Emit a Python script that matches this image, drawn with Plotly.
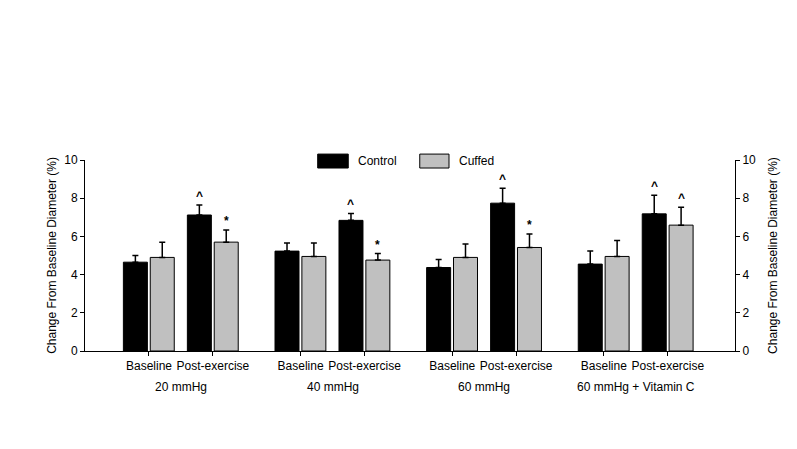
import plotly.graph_objects as go

groups = ["20 mmHg", "40 mmHg", "60 mmHg", "60 mmHg + Vitamin C"]
conditions = ["Baseline", "Post-exercise"]

control_vals = [4.65, 7.12, 5.23, 6.84, 4.37, 7.74, 4.55, 7.18]
control_err = [0.35, 0.52, 0.42, 0.36, 0.42, 0.78, 0.68, 0.98]
cuffed_vals = [4.90, 5.70, 4.95, 4.76, 4.90, 5.42, 4.95, 6.59]
cuffed_err = [0.80, 0.63, 0.70, 0.34, 0.70, 0.70, 0.84, 0.93]
control_marks = ["", "^", "", "^", "", "^", "", "^"]
cuffed_marks = ["", "*", "", "*", "", "*", "", "^"]

y_ticks = [0, 2, 4, 6, 8, 10]
y_title = "Change From Baseline Diameter (%)"

GROUP_GAP = 2.37
xpos = [g * GROUP_GAP + i for g in range(len(groups)) for i in range(len(conditions))]
ticktext = [c for _ in groups for c in conditions]

FONT = "Liberation Sans, Arial, sans-serif"
BW = 0.375

fig = go.Figure()
fig.add_trace(go.Bar(
    x=xpos, y=control_vals, width=BW, offset=-0.40,
    marker=dict(color="black", line=dict(color="black", width=1)),
    error_y=dict(type="data", symmetric=False, array=control_err,
                 arrayminus=[0] * len(control_err), color="black",
                 thickness=1.5, width=3),
    name="Control", showlegend=False,
))
fig.add_trace(go.Bar(
    x=xpos, y=cuffed_vals, width=BW, offset=0.02,
    marker=dict(color="#C0C0C0", line=dict(color="black", width=1)),
    error_y=dict(type="data", symmetric=False, array=cuffed_err,
                 arrayminus=[0] * len(cuffed_err), color="black",
                 thickness=1.5, width=3),
    name="Cuffed", showlegend=False,
))
# invisible trace so the right axis is drawn
fig.add_trace(go.Scatter(x=[xpos[0]], y=[0], yaxis="y2", mode="markers",
                         marker=dict(opacity=0), showlegend=False, hoverinfo="skip"))

annotations = []
for x, v, e, m in zip(xpos, control_vals, control_err, control_marks):
    if m:
        annotations.append(dict(x=x - 0.40 + BW / 2, y=v + e, yanchor="bottom", yshift=0,
                                text="<b>%s</b>" % m, showarrow=False,
                                font=dict(size=12, color="black", family=FONT)))
for x, v, e, m in zip(xpos, cuffed_vals, cuffed_err, cuffed_marks):
    if m:
        annotations.append(dict(x=x + 0.02 + BW / 2, y=v + e, yanchor="bottom", yshift=0,
                                text="<b>%s</b>" % m, showarrow=False,
                                font=dict(size=12, color="black", family=FONT)))
for g, name in enumerate(groups):
    annotations.append(dict(x=g * GROUP_GAP + 0.5, y=-0.188, xref="x", yref="paper",
                            text=name, showarrow=False, yanchor="middle",
                            font=dict(size=12, color="black", family=FONT)))
# legend labels
annotations.append(dict(x=0.417, y=0.995, xref="paper", yref="paper", xanchor="left",
                        yanchor="middle", text="Control", showarrow=False,
                        font=dict(size=12, color="black", family=FONT)))
annotations.append(dict(x=0.572, y=0.995, xref="paper", yref="paper", xanchor="left",
                        yanchor="middle", text="Cuffed", showarrow=False,
                        font=dict(size=12, color="black", family=FONT)))

shapes = [
    dict(type="rect", xref="paper", yref="paper", x0=0.358, x1=0.405, y0=0.958, y1=1.031,
         fillcolor="black", line=dict(color="black", width=1)),
    dict(type="rect", xref="paper", yref="paper", x0=0.515, x1=0.560, y0=0.958, y1=1.031,
         fillcolor="#C0C0C0", line=dict(color="black", width=1)),
]


def y_axis(standoff):
    return dict(range=[0, 10], tickvals=y_ticks, showgrid=False, zeroline=False,
                showline=True, linecolor="black", linewidth=1, ticks="outside",
                ticklen=4, tickcolor="black",
                tickfont=dict(size=12, color="black", family=FONT),
                title=dict(text=y_title, font=dict(size=12, color="black", family=FONT),
                           standoff=standoff))


fig.update_layout(
    width=789, height=441,
    margin=dict(l=77, r=62, t=152, b=98),
    paper_bgcolor="white", plot_bgcolor="white",
    barmode="overlay",
    font=dict(family=FONT, size=12, color="black"),
    xaxis=dict(range=[-1.0, 9.16], tickvals=xpos, ticktext=ticktext, showgrid=False,
               zeroline=False, showline=True, linecolor="black", linewidth=1,
               ticks="outside", ticklen=4, tickcolor="black",
               tickfont=dict(size=12, color="black", family=FONT)),
    yaxis=y_axis(5),
    yaxis2=dict(y_axis(13), overlaying="y", side="right"),
    annotations=annotations,
    shapes=shapes,
)

fig.write_html("out.html")
